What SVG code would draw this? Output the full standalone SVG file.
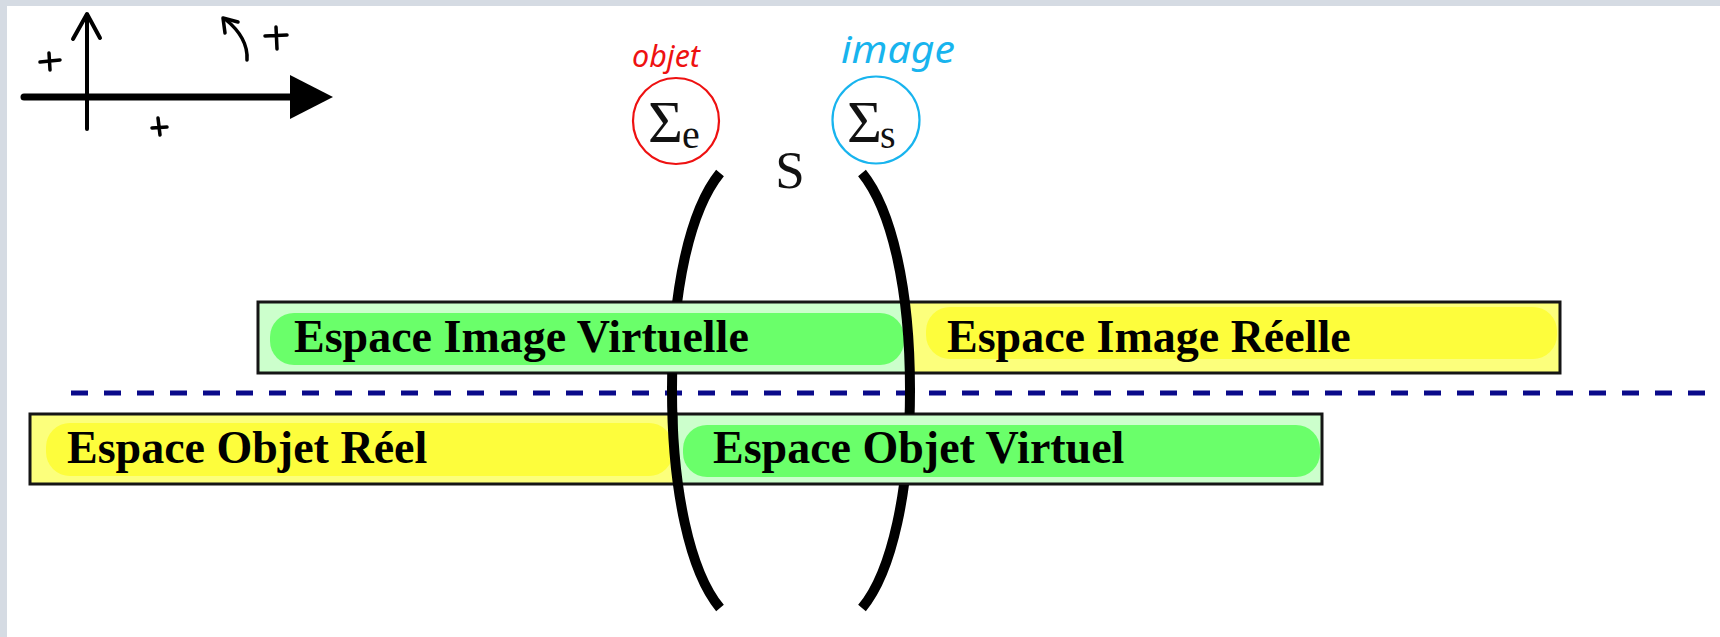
<svg xmlns="http://www.w3.org/2000/svg" width="1720" height="637" viewBox="0 0 1720 637">
  <defs>
    <style>
      .frame { fill: #d5dbe3; }
      .page { fill: #ffffff; }
      .ink { fill: none; stroke: #000; stroke-linecap: round; stroke-linejoin: round; }
      .box { stroke: #151515; stroke-width: 3; }
      .green-out { fill: #ccffcc; }
      .green-in { fill: #6aff6a; }
      .yellow-out { fill: #fcff7c; }
      .yellow-in { fill: #fdfd3c; }
      .label { font-family: "Liberation Serif", "Times New Roman", serif; font-weight: bold; font-size: 46px; fill: #000; }
      .sigma { font-family: "Liberation Serif", "Times New Roman", serif; fill: #111; }
      .hand { font-family: "Noto Sans", "DejaVu Sans", sans-serif; font-style: italic; }
      .bracket { fill: none; stroke: #000; stroke-width: 10; stroke-linecap: butt; }
      .dash { fill: none; stroke: #0a0a8a; stroke-width: 5; stroke-dasharray: 17 16; }
    </style>
    <!-- the left bracket passes behind the upper-left box only -->
    <clipPath id="clipLeft">
      <rect x="0" y="0" width="1720" height="302"/>
      <rect x="0" y="373" width="1720" height="264"/>
    </clipPath>
    <!-- the right bracket passes behind the lower-right box only -->
    <clipPath id="clipRight">
      <rect x="0" y="0" width="1720" height="414"/>
      <rect x="0" y="485" width="1720" height="152"/>
    </clipPath>
  </defs>

  <!-- page frame -->
  <rect class="frame" x="0" y="0" width="1720" height="637"/>
  <rect class="page" x="7" y="6" width="1713" height="631"/>

  <!-- sign convention sketch -->
  <g id="axes">
    <line class="ink" x1="24" y1="97" x2="292" y2="97" stroke-width="7" stroke-linecap="butt"/>
    <polygon points="290,75 333,97 290,119" fill="#000"/>
    <line class="ink" x1="87" y1="15" x2="87" y2="129" stroke-width="4"/>
    <polyline class="ink" points="73,39 87,14 100,38" stroke-width="4"/>
    <path class="ink" d="M40,62 L60,60 M49,53 L50,70" stroke-width="3.5"/>
    <path class="ink" d="M152,128 L167,127 M158,118 L160,135" stroke-width="3.5"/>
    <path class="ink" d="M247,60 C248,45 240,31 225,19" stroke-width="3.5"/>
    <polyline class="ink" points="225,33 223,18 238,22" stroke-width="3.5"/>
    <path class="ink" d="M265,36 L287,35 M276,27 L277,49" stroke-width="3.5"/>
  </g>

  <!-- input surface -->
  <g id="sigma-e">
    <circle cx="676" cy="121" r="43" fill="none" stroke="#ee1111" stroke-width="2.2"/>
    <text class="sigma" x="648" y="142" font-size="60">Σ</text>
    <text class="sigma" x="682" y="148" font-size="40">e</text>
    <text class="hand" x="632" y="67" font-size="31" fill="#ee1111" textLength="68" lengthAdjust="spacingAndGlyphs">objet</text>
  </g>

  <!-- output surface -->
  <g id="sigma-s">
    <circle cx="876" cy="120" r="43.5" fill="none" stroke="#18b4ee" stroke-width="2.2"/>
    <text class="sigma" x="847" y="142" font-size="60">Σ</text>
    <text class="sigma" x="880" y="148" font-size="40">s</text>
    <text class="hand" x="841" y="63" font-size="38" fill="#18b4ee" textLength="114" lengthAdjust="spacingAndGlyphs">image</text>
  </g>

  <g id="system-label">
    <text class="sigma" x="790" y="188" font-size="53" text-anchor="middle">S</text>
  </g>

  <!-- optical axis -->
  <g id="separator">
    <line class="dash" x1="71" y1="393" x2="1706" y2="393"/>
  </g>

  <g id="image-virtuelle">
    <rect class="box green-out" x="258" y="302" width="650" height="71"/>
    <rect class="green-in" x="270" y="313" width="634" height="52" rx="24"/>
    <text class="label" x="294" y="352">Espace Image Virtuelle</text>
  </g>

  <g id="image-reelle">
    <rect class="box yellow-out" x="908" y="302" width="652" height="71"/>
    <rect class="yellow-in" x="926" y="307" width="631" height="52" rx="24"/>
    <text class="label" x="947" y="352">Espace Image Réelle</text>
  </g>

  <g id="objet-reel">
    <rect class="box yellow-out" x="30" y="414" width="646" height="70"/>
    <rect class="yellow-in" x="46" y="423" width="627" height="53" rx="24"/>
    <text class="label" x="67" y="463">Espace Objet Réel</text>
  </g>

  <g id="objet-virtuel">
    <rect class="box green-out" x="676" y="414" width="646" height="70"/>
    <rect class="green-in" x="683" y="425" width="637" height="52" rx="24"/>
    <text class="label" x="713" y="463">Espace Objet Virtuel</text>
  </g>

  <!-- system brackets -->
  <g id="connectors">
    <path class="bracket" clip-path="url(#clipLeft)" d="M720,173 C690,210 672,290 672,390 C672,490 690,572 720,608"/>
    <path class="bracket" clip-path="url(#clipRight)" d="M862,173 C892,210 910,290 910,390 C910,490 892,572 862,608"/>
  </g>
</svg>
